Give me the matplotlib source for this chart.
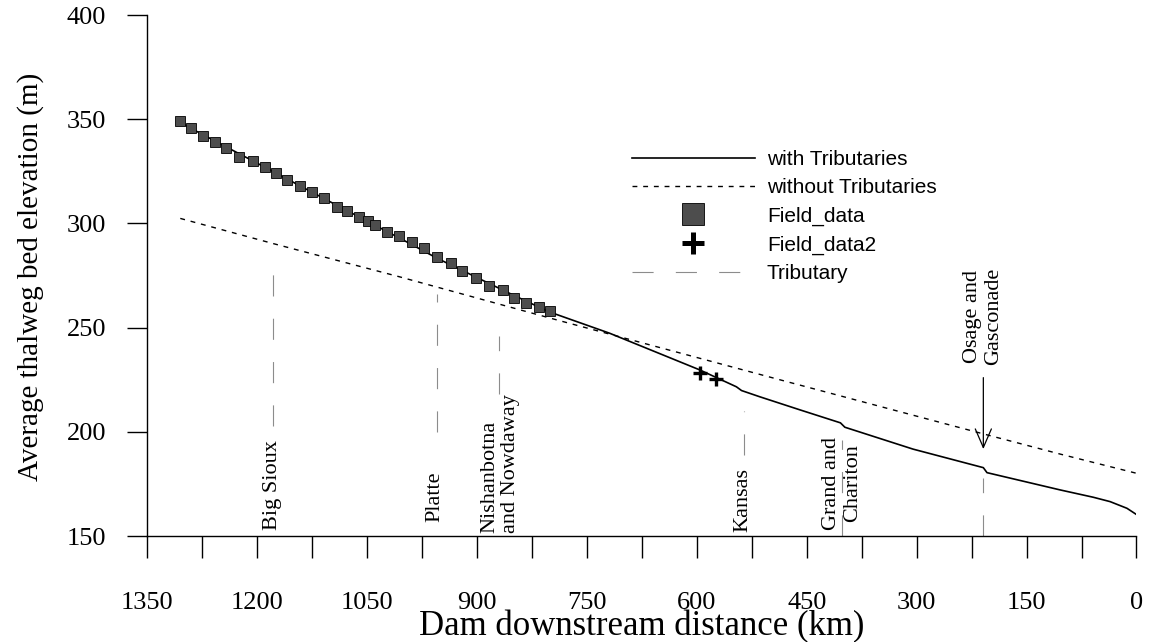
import numpy as np
import matplotlib.pyplot as plt
from matplotlib.lines import Line2D
from matplotlib.ticker import MultipleLocator

# simulated profile with tributaries (km from dam, elevation m)
with_km = [1305, 1200, 1100, 1000, 954, 900, 850, 801, 719, 596, 546, 539,
           514, 459, 404, 398, 305, 209, 204, 104, 59, 36, 13, 0]
with_m = [348.3, 328.9, 310.3, 291.9, 283.2, 274.0, 265.5, 257.5, 247.3, 229.7,
          221.6, 219.8, 216.8, 210.5, 204.3, 202.2, 191.7, 182.8, 180.4, 172.1,
          168.6, 166.5, 163.3, 160.3]

# simulated profile without tributaries
without_km = [1305, 1179, 1006, 787, 487, 209, 104, 0]
without_m = [302.4, 290.4, 274.4, 253.3, 225.0, 199.0, 189.3, 180.1]

# field data
field_km = [1305, 1290, 1274, 1258, 1242, 1225, 1206, 1190, 1175, 1159, 1142, 1125,
            1109, 1091, 1078, 1061, 1049, 1039, 1023, 1006, 989, 972, 954, 935,
            920, 902, 883, 865, 849, 833, 816, 801]
field_m = [349, 346, 342, 339, 336, 332, 330, 327, 324, 321, 318, 315,
           312, 308, 306, 303, 301, 299, 296, 294, 291, 288, 284, 281,
           277, 274, 270, 268, 264, 262, 260, 258]
field2_km = [596, 574]
field2_m = [228.4, 225.2]

# tributary confluences
trib_names = ['Big Sioux', 'Platte', 'Nishanbotna\nand Nowdaway', 'Kansas',
              'Grand and\nChariton', 'Osage and\nGasconade']
trib_km = [1178, 955, 870, 536, 402, 209]
trib_top = [285, 266, 246, 210, 196, 178]
trib_bottom = [203, 200, 218, 189, 150, 150]

serif = 'Liberation Serif'
sans = 'Liberation Sans'

fig = plt.figure(figsize=(11.49, 6.42), dpi=100)
ax = fig.add_axes([0.1282, 0.1651, 0.8609, 0.8115])

trib_style = dict(color='#8c8c8c', lw=0.8, dashes=(19, 20))
for k, y0, y1 in zip(trib_km, trib_bottom, trib_top):
    ax.plot([k, k], [y0, y1], **trib_style)

ax.plot(without_km, without_m, color='black', lw=1.0, dashes=(3.5, 4.2))
ax.plot(with_km, with_m, color='black', lw=1.2)
ax.plot(field_km, field_m, ls='none', marker='s', ms=7, mfc='#4d4d4d',
        mec='black', mew=0.6)
ax.plot(field2_km, field2_m, ls='none', marker='+', ms=10, mew=2.4, color='black')

# tributary labels
lab_x = [1179, 957, 869, 536.5, 402, 209]
lab_y = [152.9, 156.7, 151.4, 151.9, 175.4, 232]
lab_va = ['bottom', 'bottom', 'bottom', 'bottom', 'center', 'bottom']
lab_ma = ['left', 'left', 'left', 'left', 'center', 'center']
for name, x, y, va, ma in zip(trib_names, lab_x, lab_y, lab_va, lab_ma):
    ax.text(x, y, name, rotation=90, ha='center', va=va, multialignment=ma,
            fontsize=16, family=serif, linespacing=1.12)

ax.annotate('', xy=(209, 191.7), xytext=(209, 226),
            arrowprops=dict(arrowstyle='->,head_length=1.34,head_width=0.58',
                            mutation_scale=10, lw=0.9, color='black',
                            shrinkA=0, shrinkB=0))

ax.set_xlim(1350, 0)
ax.set_ylim(150, 400)
ax.xaxis.set_major_locator(MultipleLocator(150))
ax.xaxis.set_minor_locator(MultipleLocator(75))
ax.yaxis.set_major_locator(MultipleLocator(50))
ax.spines['top'].set_visible(False)
ax.spines['right'].set_visible(False)
for s in ['left', 'bottom']:
    ax.spines[s].set_linewidth(1.0)
ax.tick_params(axis='x', which='both', direction='out', length=16, width=1.0, pad=24.5)
ax.tick_params(axis='y', which='major', direction='out', length=14.5, width=1.0, pad=15)
for lab in ax.get_xticklabels() + ax.get_yticklabels():
    lab.set_fontfamily(serif)
    lab.set_fontsize(19)

ax.set_xlabel('Dam downstream distance (km)', fontsize=25, family=serif)
ax.set_ylabel('Average thalweg bed elevation (m)', fontsize=21, family=serif)
ax.xaxis.set_label_coords(0.5, -0.143)
ax.yaxis.set_label_coords(-0.1044, 0.497)

handles = [
    Line2D([], [], color='black', lw=1.2),
    Line2D([], [], color='black', lw=1.0, dashes=(3.5, 4.2)),
    Line2D([], [], ls='none', marker='s', ms=16.5, mfc='#4d4d4d', mec='black', mew=0.6),
    Line2D([], [], ls='none', marker='+', ms=16.5, mew=3.6, color='black'),
    Line2D([], [], color='#8c8c8c', lw=0.8, dashes=(19, 20)),
]
labels = ['with Tributaries', 'without Tributaries', 'Field_data', 'Field_data2', 'Tributary']
ax.legend(handles, labels, loc='upper left', bbox_to_anchor=(0.490, 0.741),
          frameon=False, borderpad=0, borderaxespad=0, handlelength=5.9,
          handletextpad=0.58, labelspacing=0.45, prop={'family': sans, 'size': 15})

fig.savefig('out.png', dpi=100)
